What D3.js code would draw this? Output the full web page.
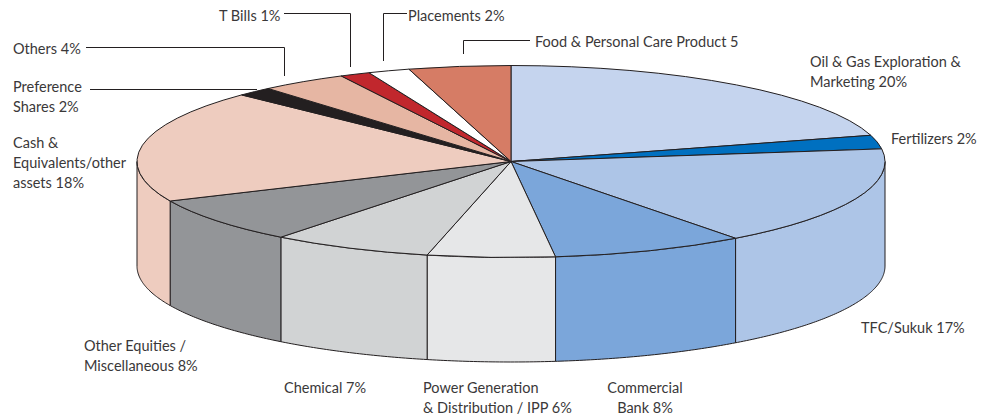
<!DOCTYPE html>
<html>
<head>
<meta charset="utf-8">
<script src="https://cdn.jsdelivr.net/npm/d3@7"></script>
<style>
  html, body { margin: 0; padding: 0; background: #fff; }
  svg { display: block; }
  text { font-family: Lato, "Open Sans", sans-serif; font-size: 14.5px; fill: #3a3839; }
</style>
</head>
<body>
<div id="plot"></div>
<script>
// Sectors, clockwise from 12 o'clock
const sectors = ["Oil & Gas Exploration & Marketing", "Fertilizers", "TFC/Sukuk", "Commercial Bank",
    "Power Generation & Distribution / IPP", "Chemical", "Other Equities / Miscellaneous",
    "Cash & Equivalents/other assets", "Preference Shares", "Others", "T Bills", "Placements",
    "Food & Personal Care Product"];

const shares = [20.6, 2.3, 16.85, 8.35, 5.5, 6.95, 7.7, 18.95, 1.55, 3.75, 1.3, 1.8, 4.4];

const colors = ["#c5d4ee", "#0070c0", "#adc5e7", "#7ba6da", "#e6e7e8", "#d1d3d4", "#939598",
    "#eeccbf", "#231f20", "#e6b6a3", "#c1272d", "#ffffff", "#d67c65"];

// Label lines as printed
const labelLines = [
    ["Oil & Gas Exploration &", "Marketing 20%"],
    ["Fertilizers 2%"],
    ["TFC/Sukuk 17%"],
    ["Commercial", "Bank 8%"],
    ["Power Generation", "& Distribution / IPP 6%"],
    ["Chemical 7%"],
    ["Other Equities /", "Miscellaneous 8%"],
    ["Cash &", "Equivalents/other", "assets 18%"],
    ["Preference", "Shares 2%"],
    ["Others 4%"],
    ["T Bills 1%"],
    ["Placements 2%"],
    ["Food & Personal Care Product 5"]
];

// Where each label block starts (x, first baseline, anchor)
const labelPos = [
    [810, 66.5, "start"], [891, 144, "start"], [861, 333, "start"], [645, 393, "middle"],
    [423, 393, "start"], [284, 393, "start"], [84, 351, "start"], [13, 148, "start"],
    [13, 92, "start"], [13, 54, "start"], [219, 21, "start"], [408, 21, "start"], [535, 47, "start"]
];

// Leader lines
const leaders = [
    [[86, 47.5], [284.5, 47.5], [284.5, 76]],
    [[90, 89.5], [257, 89.5]],
    [[284, 13.5], [350.5, 13.5], [350.5, 67]],
    [[407, 13.5], [383.5, 13.5], [383.5, 61]],
    [[530, 40.5], [463.5, 40.5], [463.5, 54]]
];

const width = 994, height = 418;
const cx = 511, cy = 161.5, rx = 374, ry = 96, depth = 104.5;
const ink = "#231f20";

const svg = d3.select("#plot").append("svg")
    .attr("width", width)
    .attr("height", height);

const slices = d3.pie().sort(null)(shares);

// Ellipse position for a pie angle (0 = top, clockwise)
const ex = a => cx + rx * Math.sin(a);
const ey = a => cy - ry * Math.cos(a);

// Side wall: only the part of a slice facing the viewer (90deg to 270deg)
const wallLine = d3.line().x(d => d[0]).y(d => d[1]);
slices.forEach(s => {
    const a0 = Math.max(s.startAngle, Math.PI / 2);
    const a1 = Math.min(s.endAngle, 3 * Math.PI / 2);
    if (a1 <= a0) return;
    const angles = d3.range(a0, a1, 0.01).concat([a1]);
    const top = angles.map(a => [ex(a), ey(a)]);
    const bottom = angles.map(a => [ex(a), ey(a) + depth]).reverse();
    svg.append("path")
        .attr("d", wallLine(top.concat(bottom)) + "Z")
        .attr("fill", colors[s.index])
        .attr("stroke", ink)
        .attr("stroke-width", 1)
        .attr("stroke-linejoin", "round");
});

// Top face: a normal d3 arc squashed into an ellipse
const arc = d3.arc().innerRadius(0).outerRadius(rx);
svg.append("g")
    .attr("transform", `translate(${cx},${cy}) scale(1,${ry / rx})`)
    .selectAll("path")
    .data(slices)
    .enter()
    .append("path")
    .attr("d", arc)
    .attr("fill", (d, i) => colors[i])
    .attr("stroke", ink)
    .attr("stroke-width", 1)
    .attr("vector-effect", "non-scaling-stroke")
    .attr("stroke-linejoin", "round");

// Leader lines
svg.selectAll(".leader")
    .data(leaders)
    .enter()
    .append("path")
    .attr("class", "leader")
    .attr("d", d3.line())
    .attr("fill", "none")
    .attr("stroke", ink)
    .attr("stroke-width", 1);

// Labels
labelLines.forEach((lines, i) => {
    const [x, y, anchor] = labelPos[i];
    const t = svg.append("text").attr("text-anchor", anchor);
    lines.forEach((line, j) => {
        t.append("tspan")
            .attr("x", x)
            .attr("y", y + j * 20)
            .text(line);
    });
});
</script>
</body>
</html>
